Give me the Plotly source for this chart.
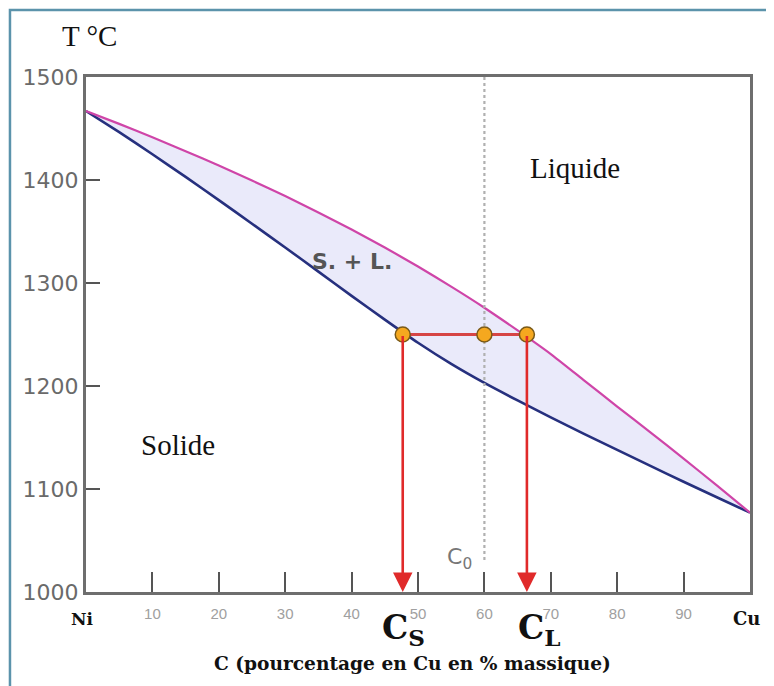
import plotly.graph_objects as go

# ---- data ----
composition = [0, 5, 10, 15, 20, 25, 30, 35, 40, 45, 50,
               55, 60, 65, 70, 75, 80, 85, 90, 95, 100]          # % Cu
liquidus_T = [1467, 1454.5, 1441.5, 1428, 1414, 1399.5, 1384.5, 1368.5, 1352, 1334.5, 1316,
              1296.5, 1276, 1254, 1231, 1205.5, 1180, 1155, 1129.5, 1103.5, 1077]
solidus_T = [1467, 1446.5, 1425, 1403, 1380.5, 1357.5, 1334.5, 1311, 1287.5, 1264.5, 1242,
             1221.5, 1203, 1186, 1169.5, 1153.5, 1138, 1122.5, 1107, 1092, 1077]

tie_T = 1250
C_S = 47.7
C_0 = 60
C_L = 66.4
tie_points = [C_S, C_0, C_L]

x_tickvals = [10, 20, 30, 40, 50, 60, 70, 80, 90]
y_tickvals = [1000, 1100, 1200, 1300, 1400, 1500]

SERIF = "Liberation Serif, Times New Roman, serif"
WSERIF = "DejaVu Serif, serif"
SANS = "DejaVu Sans, sans-serif"

fig = go.Figure()

# solidus
fig.add_trace(go.Scatter(
    x=composition, y=solidus_T, mode="lines",
    line=dict(color="#26307e", width=2.6, shape="spline", smoothing=0.5),
    hoverinfo="skip", showlegend=False))
# liquidus with fill to solidus
fig.add_trace(go.Scatter(
    x=composition, y=liquidus_T, mode="lines",
    line=dict(color="#cf45a8", width=2.2, shape="spline", smoothing=0.5),
    fill="tonexty", fillcolor="rgba(214,214,246,0.5)",
    hoverinfo="skip", showlegend=False))

# dotted C0 line
fig.add_trace(go.Scatter(
    x=[C_0, C_0], y=[1031, 1500], mode="lines",
    line=dict(color="#b0b0b0", width=2.2, dash="dot"),
    hoverinfo="skip", showlegend=False))

# tie line
fig.add_trace(go.Scatter(
    x=[C_S, C_L], y=[tie_T, tie_T], mode="lines",
    line=dict(color="#d64545", width=3),
    hoverinfo="skip", showlegend=False))

# arrows down to composition axis
for c in (C_S, C_L):
    fig.add_annotation(
        x=c, y=1000, ax=c, ay=tie_T, xref="x", yref="y", axref="x", ayref="y",
        text="", showarrow=True, arrowhead=2, arrowsize=1.5, arrowwidth=2.6,
        arrowcolor="#e02a2a", standoff=0, startstandoff=0)

# tie points
fig.add_trace(go.Scatter(
    x=tie_points, y=[tie_T] * len(tie_points), mode="markers",
    marker=dict(size=15, color="#f5a81f", line=dict(color="#7a5a18", width=1.5)),
    hoverinfo="skip", showlegend=False))

# ---- texts ----
def note(x, y, text, size, color="#111", family=SERIF, xref="x", yref="y", **kw):
    fig.add_annotation(x=x, y=y, xref=xref, yref=yref, text=text, showarrow=False,
                       font=dict(size=size, color=color, family=family), **kw)

note(73.6, 1412, "Liquide", 29)
note(13.9, 1143, "Solide", 29)
note(40.1, 1321, "<b>S. + L.</b>", 22, color="#555555", family=SANS)
note(56.2, 1033, "C<sub>0</sub>", 22, color="#777777", family=SANS)
note(0, 1000, "<b>Ni</b>", 17, family=WSERIF, yshift=-27, xshift=-4)
note(100, 1000, "<b>Cu</b>", 18, family=WSERIF, yshift=-26, xshift=-4)
note(C_S, 1000, "<b>C<sub>S</sub></b>", 33, family=WSERIF, yshift=-37, xshift=1)
note(C_L, 1000, "<b>C<sub>L</sub></b>", 33, family=WSERIF, yshift=-37, xshift=13)
note(49.2, 1000, "<b>C (pourcentage en Cu en % massique)</b>", 18.6, family=WSERIF, yshift=-71)
note(0.006, 1.0796, "T °C", 29, xref="paper", yref="paper",
     xanchor="center", yanchor="middle")

# outer frame
fig.add_shape(type="path", xref="paper", yref="paper",
              path="M -0.1145,-0.3 L -0.1145,1.1301 L 1.1,1.1301",
              line=dict(color="#5b93ab", width=2.5))
fig.add_shape(type="line", xref="paper", yref="paper",
              x0=-0.1145, x1=1.1, y0=1.1350, y1=1.1350,
              line=dict(color="#c8eef5", width=1))

fig.update_xaxes(
    range=[0, 100], tickvals=x_tickvals, ticks="inside", ticklen=20, tickwidth=2,
    tickcolor="#555555", showline=True, linewidth=3, linecolor="#6e6e6e",
    mirror=True, showgrid=False, zeroline=False, ticklabelstandoff=6,
    tickfont=dict(size=15, color="#a0a0a0", family="Liberation Sans, Arial, sans-serif"))
fig.update_yaxes(
    range=[1000, 1500], tickvals=y_tickvals, ticks="inside", ticklen=14, tickwidth=2,
    tickcolor="#555555", showline=True, linewidth=3, linecolor="#6e6e6e",
    mirror=True, showgrid=False, zeroline=False,
    tickfont=dict(size=22, color="#6a6a6a", family="DejaVu Sans, sans-serif"))

fig.update_layout(
    width=774, height=686,
    margin=dict(l=78, r=32, t=69, b=102),
    paper_bgcolor="white", plot_bgcolor="white",
    showlegend=False, hovermode=False)

fig.write_html("out.html")
